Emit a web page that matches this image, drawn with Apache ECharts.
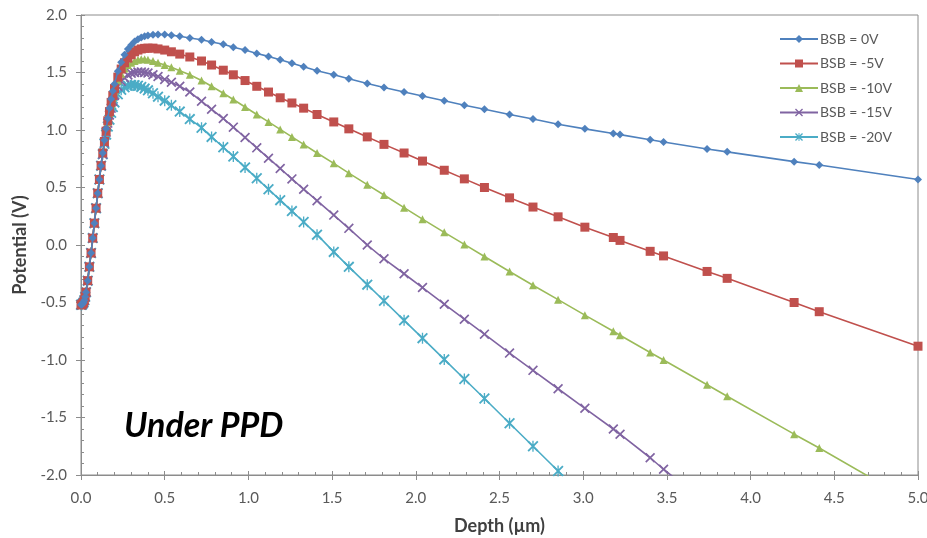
<!DOCTYPE html>
<html>
<head>
<meta charset="utf-8">
<script src="https://cdn.jsdelivr.net/npm/echarts@6/dist/echarts.min.js"></script>
<style>
  html, body { margin: 0; padding: 0; background: #fff; }
  #chart { width: 927px; height: 538px; }
</style>
</head>
<body>
<div id="chart"></div>
<script>
// Depth mesh (µm), shared by every bias curve
const depth = [0, 0.005, 0.01, 0.015, 0.02, 0.025, 0.03, 0.04, 0.05, 0.06, 0.07, 0.08, 0.09, 0.10, 0.11, 0.12,
  0.13, 0.14, 0.15, 0.16, 0.17, 0.18, 0.19, 0.20, 0.22, 0.24, 0.26, 0.28, 0.30, 0.32, 0.34, 0.36, 0.38, 0.40,
  0.43, 0.46, 0.50, 0.54, 0.59, 0.65, 0.72, 0.78, 0.85, 0.91, 0.98, 1.05, 1.12, 1.19, 1.26, 1.33,
  1.41, 1.51, 1.60, 1.71, 1.81, 1.93, 2.04, 2.17, 2.29, 2.41, 2.56, 2.70, 2.85, 3.01, 3.18,
  3.22, 3.40, 3.48, 3.74, 3.86, 4.26, 4.41, 5.0];

// Potential (V) for each back-substrate bias
const bsb0 = [-0.52, -0.52, -0.51, -0.50, -0.48, -0.45, -0.41, -0.31, -0.19, -0.07, 0.06, 0.19, 0.32, 0.45, 0.57, 0.69,
  0.80, 0.91, 1.01, 1.10, 1.19, 1.27, 1.34, 1.40, 1.51, 1.59, 1.655, 1.705, 1.74, 1.77, 1.79, 1.805, 1.815, 1.822,
  1.828, 1.83, 1.83, 1.825, 1.815, 1.80, 1.785, 1.765, 1.745, 1.72, 1.695, 1.665, 1.64, 1.61, 1.58, 1.55,
  1.515, 1.48, 1.445, 1.405, 1.37, 1.33, 1.295, 1.255, 1.215, 1.18, 1.135, 1.095, 1.05, 1.01, 0.97,
  0.96, 0.915, 0.895, 0.835, 0.81, 0.725, 0.695, 0.57];

const bsb5 = [-0.52, -0.52, -0.51, -0.50, -0.48, -0.45, -0.41, -0.31, -0.19, -0.07, 0.06, 0.19, 0.32, 0.45, 0.57, 0.69,
  0.80, 0.90, 0.99, 1.08, 1.16, 1.24, 1.30, 1.36, 1.46, 1.53, 1.585, 1.625, 1.655, 1.68, 1.695, 1.705, 1.71, 1.712,
  1.712, 1.705, 1.695, 1.68, 1.66, 1.635, 1.60, 1.565, 1.52, 1.48, 1.43, 1.38, 1.33, 1.28, 1.235, 1.19,
  1.135, 1.07, 1.01, 0.94, 0.875, 0.80, 0.73, 0.65, 0.575, 0.50, 0.41, 0.33, 0.245, 0.155, 0.065,
  0.04, -0.055, -0.095, -0.23, -0.29, -0.50, -0.58, -0.88];

const bsb10 = [-0.52, -0.52, -0.51, -0.50, -0.48, -0.45, -0.41, -0.31, -0.19, -0.07, 0.06, 0.19, 0.32, 0.45, 0.57, 0.69,
  0.80, 0.90, 0.99, 1.07, 1.15, 1.22, 1.28, 1.34, 1.43, 1.49, 1.535, 1.565, 1.585, 1.60, 1.61, 1.615, 1.615, 1.61,
  1.60, 1.585, 1.565, 1.545, 1.515, 1.48, 1.43, 1.38, 1.32, 1.265, 1.20, 1.135, 1.07, 1.005, 0.94, 0.875,
  0.80, 0.71, 0.625, 0.525, 0.435, 0.325, 0.225, 0.11, 0.005, -0.10, -0.23, -0.35, -0.475, -0.61, -0.75,
  -0.785, -0.935, -1.0, -1.215, -1.315, -1.645, -1.765, -2.26];

const bsb15 = [-0.52, -0.52, -0.51, -0.50, -0.48, -0.45, -0.41, -0.31, -0.19, -0.07, 0.06, 0.19, 0.32, 0.45, 0.57, 0.69,
  0.79, 0.89, 0.98, 1.06, 1.13, 1.19, 1.25, 1.30, 1.38, 1.425, 1.455, 1.478, 1.493, 1.50, 1.505, 1.505, 1.50, 1.495,
  1.48, 1.465, 1.44, 1.415, 1.38, 1.33, 1.25, 1.18, 1.10, 1.025, 0.935, 0.845, 0.755, 0.665, 0.575, 0.485,
  0.385, 0.26, 0.145, 0.0, -0.12, -0.25, -0.37, -0.515, -0.645, -0.775, -0.94, -1.09, -1.25, -1.42, -1.60,
  -1.645, -1.85, -1.95, -2.25, -2.39, -2.84, -3.01, -3.67];

const bsb20 = [-0.52, -0.52, -0.51, -0.50, -0.48, -0.45, -0.41, -0.31, -0.19, -0.07, 0.06, 0.19, 0.32, 0.45, 0.57, 0.69,
  0.79, 0.88, 0.96, 1.03, 1.09, 1.15, 1.20, 1.24, 1.31, 1.35, 1.372, 1.385, 1.39, 1.39, 1.385, 1.375, 1.36, 1.345,
  1.32, 1.29, 1.255, 1.215, 1.16, 1.095, 1.02, 0.94, 0.85, 0.77, 0.675, 0.58, 0.485, 0.39, 0.295, 0.20,
  0.09, -0.06, -0.19, -0.345, -0.485, -0.655, -0.81, -0.995, -1.165, -1.335, -1.55, -1.75, -1.965, -2.19, -2.43,
  -2.48, -2.73, -2.84, -3.20, -3.37, -3.93, -4.14, -4.96];

const seriesNames = ['BSB = 0V', 'BSB = -5V', 'BSB = -10V', 'BSB = -15V', 'BSB = -20V'];
const seriesValues = [bsb0, bsb5, bsb10, bsb15, bsb20];
const colors = ['#4F81BD', '#C0504D', '#9BBB59', '#8064A2', '#4BACC6'];

// Marker shapes: diamond, square, triangle, x-cross, asterisk
const crossPath = 'path://M0,1.2 L1.2,0 L10,8.8 L8.8,10 Z M8.8,0 L10,1.2 L1.2,10 L0,8.8 Z';
const starPath = 'path://M0,1.2 L1.2,0 L10,8.8 L8.8,10 Z M8.8,0 L10,1.2 L1.2,10 L0,8.8 Z M4.4,0 L5.6,0 L5.6,10 L4.4,10 Z';
const symbols = ['diamond', 'rect', 'triangle', crossPath, starPath];
const symbolSizes = [8, 9, 8, 10, 11];

const fontFamily = 'Lato, "Open Sans", sans-serif';
const labelFont = { color: '#595959', fontSize: 15, fontFamily: fontFamily };
const nameFont = { color: '#404040', fontSize: 18, fontWeight: 'bold', fontFamily: fontFamily };
const axisGray = '#8c8c8c';

const chart = echarts.init(document.getElementById('chart'), null, { renderer: 'canvas' });

const series = seriesNames.map((name, i) => ({
  name: name,
  type: 'line',
  xAxisIndex: 0,
  yAxisIndex: 0,
  data: depth.map((d, k) => [d, seriesValues[i][k]]),
  symbol: symbols[i],
  symbolSize: symbolSizes[i],
  showSymbol: true,
  showAllSymbol: true,
  clip: true,
  lineStyle: { color: colors[i], width: 1.6 },
  itemStyle: { color: colors[i] },
  emphasis: { disabled: true },
  z: 10 - i
}));

chart.setOption({
  animation: false,
  backgroundColor: '#ffffff',
  grid: {
    left: 81, top: 15, right: 9, bottom: 63,
    outerBoundsMode: 'none',
    show: true, borderColor: axisGray, borderWidth: 1, backgroundColor: 'transparent'
  },
  legend: {
    orient: 'vertical',
    left: 779, top: 32,
    padding: 0,
    itemWidth: 38, itemHeight: 10, itemGap: 10.5,
    textStyle: { color: '#595959', fontSize: 14, fontFamily: fontFamily, padding: [0, 0, 0, -3] },
    data: seriesNames
  },
  xAxis: [{
    type: 'value', min: 0, max: 5, interval: 0.5,
    name: 'Depth (µm)', nameLocation: 'middle', nameGap: 42,
    nameTextStyle: nameFont,
    axisLine: { show: true, onZero: false, lineStyle: { color: axisGray, width: 1 } },
    axisTick: { show: true, inside: false, length: 5, lineStyle: { color: axisGray } },
    axisLabel: Object.assign({ margin: 16, formatter: v => v.toFixed(1) }, labelFont),
    splitLine: { show: false }
  }, {
    type: 'value', min: 0, max: 5, interval: 0.5, position: 'bottom',
    axisLine: { show: false, onZero: false },
    axisTick: { show: true, inside: true, length: 4, lineStyle: { color: axisGray } },
    minorTick: { show: true, splitNumber: 5, length: 3, lineStyle: { color: axisGray } },
    axisLabel: { show: false },
    splitLine: { show: false }
  }],
  yAxis: [{
    type: 'value', min: -2, max: 2, interval: 0.5,
    name: 'Potential (V)', nameLocation: 'middle', nameGap: 51,
    nameTextStyle: nameFont,
    axisLine: { show: true, onZero: false, lineStyle: { color: axisGray, width: 1 } },
    axisTick: { show: true, inside: false, length: 5, lineStyle: { color: axisGray } },
    axisLabel: Object.assign({ margin: 14, formatter: v => v.toFixed(1) }, labelFont),
    splitLine: { show: false }
  }, {
    type: 'value', min: -2, max: 2, interval: 0.5, position: 'left',
    axisLine: { show: false, onZero: false },
    axisTick: { show: true, inside: true, length: 4, lineStyle: { color: axisGray } },
    minorTick: { show: true, splitNumber: 5, length: 3, lineStyle: { color: axisGray } },
    axisLabel: { show: false },
    splitLine: { show: false }
  }],
  graphic: [{
    type: 'text',
    x: 124, y: 426,
    style: {
      text: 'Under PPD',
      fill: '#000000',
      font: 'italic bold 34px Lato, "Open Sans", sans-serif',
      verticalAlign: 'middle'
    },
    z: 20
  }],
  series: series
});
</script>
</body>
</html>
